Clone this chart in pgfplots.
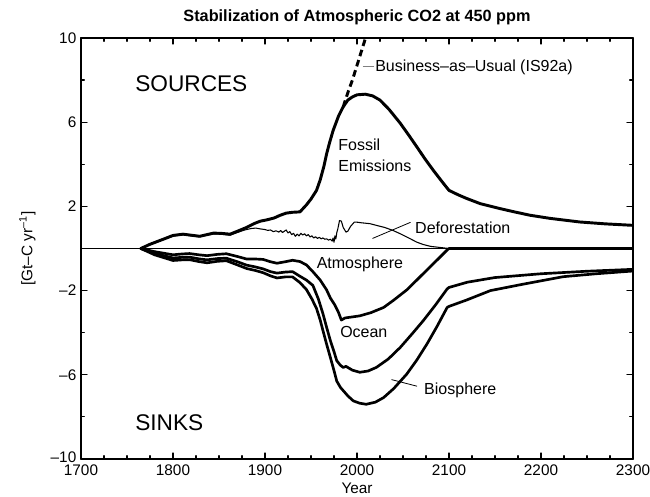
\documentclass[border=0pt]{standalone}
\usepackage{fontspec}
\setmainfont{Liberation Sans}
\usepackage{pgfplots}
\pgfplotsset{compat=1.18}
\begin{document}
\begin{tikzpicture}
\begin{axis}[name=ax,
  scale only axis, width=414pt, height=315.75pt,
  xmin=1700, xmax=2300, ymin=-10, ymax=10,
  xtick={1700,1800,1900,2000,2100,2200,2300},
  xticklabels={1700,1800,1900,2000,2100,2200,2300},
  minor x tick num=3,
  ytick={-10,-6,-2,2,6,10},
  yticklabels={\raisebox{3.5pt}{–10},–6,–2,2,6,10},
  minor ytick={-8,-4,0,4,8},
  tick align=inside,
  major tick length=4.5pt, minor tick length=2.5pt,
  every tick/.style={black, line width=0.9pt},
  axis line style={line width=1.3pt},
  tick label style={font=\fontsize{11.5}{13}\selectfont},
  xticklabel style={yshift=-0.5pt},
  title={Stabilization of Atmospheric CO2 at 450 ppm},
  title style={font=\fontsize{12.2}{14}\selectfont\bfseries, at={(axis description cs:0.5,1)}, anchor=center, yshift=9.5pt},
  xlabel={Year},
  xlabel style={font=\fontsize{11.5}{13}\selectfont, at={(axis description cs:0.5,0)}, anchor=center, yshift=-22pt},
  ylabel={[Gt–C yr\textsuperscript{–1}]},
  ylabel style={font=\fontsize{11.5}{13}\selectfont, at={(axis description cs:-0.097,0.5)}, anchor=center},
  line join=round, line cap=round,
]
% zero line
\addplot[black, line width=1pt] coordinates {(1700,0) (2300,0)};
% Deforestation (thin)
\addplot[black, line width=0.8pt] coordinates {
(1765,0) (1775,0.19) (1790,0.43) (1800,0.59) (1811,0.65) (1820,0.6) (1829,0.55)
(1837,0.63) (1844,0.69) (1852,0.68) (1862,0.63) (1870,0.76) (1878,0.88) (1885,0.95)
(1890,0.97) (1895,0.93) (1900,0.9) (1903,0.86) (1906,0.88) (1909,0.8) (1912,0.84)
(1915,0.78) (1917,0.85) (1919,0.76) (1921,0.82) (1923,0.88) (1925,0.74) (1927,0.8)
(1929,0.66) (1931,0.72) (1933,0.58) (1935,0.68) (1937,0.6) (1939,0.72) (1941,0.64)
(1943,0.7) (1945,0.6) (1947,0.66) (1949,0.55) (1951,0.6) (1953,0.5) (1955,0.56)
(1957,0.48) (1959,0.53) (1961,0.46) (1963,0.5) (1965,0.44) (1967,0.46) (1969,0.4)
(1971,0.44) (1973,0.35) (1974,0.5) (1975,0.3) (1976,0.6) (1977,0.45) (1978,0.75)
(1979,0.9) (1981,1.33) (1983,1.3) (1985,1.0) (1988,0.78) (1990,0.82) (1993,1.05)
(1997,1.25) (2000,1.25) (2005,1.22) (2014,1.18) (2021,1.1) (2030,1.0) (2039,0.86)
(2048,0.68) (2058,0.46) (2065,0.3) (2072,0.19) (2080,0.1) (2090,0.05) (2100,0) (2300,0)
};
% Fossil emissions (thick)
\addplot[black, line width=2.2pt] coordinates {
(1765,0) (1775,0.2) (1790,0.45) (1800,0.62) (1811,0.68) (1820,0.63) (1829,0.58)
(1837,0.66) (1844,0.73) (1852,0.72) (1862,0.68) (1870,0.82) (1880,1.0) (1888,1.18)
(1895,1.3) (1902,1.36) (1910,1.45) (1916,1.57) (1923,1.68) (1930,1.72) (1938,1.74)
(1945,2.07) (1950,2.35) (1956,2.76) (1960,3.26) (1964,3.9) (1967,4.5) (1970,5.0)
(1974,5.6) (1980,6.3) (1985,6.73) (1990,7.05) (1995,7.2) (2000,7.3) (2009,7.33)
(2017,7.25) (2025,7.05) (2035,6.6) (2047,5.95) (2056,5.4) (2065,4.83) (2074,4.25)
(2083,3.71) (2092,3.2) (2100,2.76) (2110,2.55) (2119,2.38) (2134,2.13) (2155,1.9)
(2170,1.75) (2188,1.58) (2210,1.43) (2242,1.26) (2270,1.17) (2300,1.1)
};
% Business-as-usual (dashed)
\addplot[black, line width=2.2pt, dash pattern=on 5pt off 3pt, line cap=butt] coordinates {
(1985,6.73) (1990,7.4) (1995,8.0) (2000,8.7) (2005,9.4) (2010,10.1)
};
% Atmosphere
\addplot[black, line width=2pt] coordinates {
(1765,0) (1780,-0.15) (1800,-0.3) (1810,-0.26) (1818,-0.24) (1828,-0.3) (1837,-0.34)
(1848,-0.28) (1858,-0.25) (1870,-0.38) (1880,-0.5) (1890,-0.5) (1898,-0.52) (1906,-0.63)
(1913,-0.7) (1922,-0.63) (1930,-0.56) (1938,-0.62) (1945,-0.78) (1952,-1.1) (1960,-1.5)
(1967,-1.97) (1971,-2.35) (1976,-2.69) (1980,-3.05) (1983,-3.4) (1987,-3.3) (1995,-3.25)
(2003,-3.2) (2015,-3.05) (2029,-2.8) (2040,-2.45) (2054,-1.97) (2065,-1.5) (2076,-1.02)
(2087,-0.55) (2098,-0.07) (2100,0) (2300,0)
};
% Ocean
\addplot[black, line width=2pt] coordinates {
(1765,0) (1780,-0.23) (1800,-0.45) (1810,-0.42) (1818,-0.41) (1828,-0.49) (1837,-0.54)
(1848,-0.48) (1858,-0.46) (1870,-0.63) (1880,-0.79) (1890,-0.88) (1898,-0.97) (1906,-1.1)
(1913,-1.17) (1922,-1.12) (1930,-1.1) (1938,-1.32) (1945,-1.5) (1952,-1.75) (1958,-2.4)
(1963,-3.1) (1967,-3.75) (1971,-4.37) (1975,-4.9) (1978,-5.33) (1982,-5.55) (1985,-5.65)
(1988,-5.6) (1995,-5.78) (2003,-5.88) (2012,-5.82) (2021,-5.65) (2034,-5.25) (2047,-4.7)
(2060,-4.05) (2072,-3.43) (2085,-2.7) (2098,-1.92) (2100,-1.85) (2120,-1.6) (2150,-1.38)
(2200,-1.2) (2250,-1.08) (2300,-0.99)
};
% Biosphere
\addplot[black, line width=2pt] coordinates {
(1765,0) (1780,-0.3) (1800,-0.57) (1810,-0.54) (1818,-0.53) (1828,-0.62) (1837,-0.68)
(1848,-0.61) (1858,-0.58) (1870,-0.78) (1880,-0.95) (1890,-1.05) (1898,-1.15) (1906,-1.3)
(1913,-1.4) (1922,-1.35) (1930,-1.35) (1938,-1.62) (1945,-1.95) (1951,-2.4) (1956,-2.85)
(1960,-3.4) (1963,-3.9) (1967,-4.55) (1971,-5.17) (1975,-5.8) (1978,-6.3) (1982,-6.6)
(1985,-6.75) (1990,-7.0) (1996,-7.24) (2003,-7.35) (2010,-7.4) (2020,-7.3) (2029,-7.08)
(2040,-6.65) (2054,-5.97) (2065,-5.3) (2076,-4.54) (2087,-3.7) (2098,-2.8) (2100,-2.75)
(2119,-2.45) (2145,-2.0) (2180,-1.7) (2224,-1.34) (2260,-1.2) (2300,-1.07)
};
% pointer lines
\addplot[gray, line width=0.8pt] coordinates {(2007,8.65) (2018,8.65)};
\addplot[black, line width=0.6pt] coordinates {(2017,0.48) (2058,1.24)};
\addplot[black, line width=0.6pt] coordinates {(2037.7,-6.23) (2065,-6.54)};
% labels
\node[anchor=west, inner sep=0pt, font=\fontsize{17}{19}\selectfont] at (axis cs:1758.7,7.83) {SOURCES};
\node[anchor=west, inner sep=0pt, font=\fontsize{17}{19}\selectfont] at (axis cs:1758.7,-8.26) {SINKS};
\node[anchor=west, inner sep=0pt, font=\fontsize{12}{14}\selectfont] at (axis cs:2019.6,8.6) {Business–as–Usual (IS92a)};
\node[anchor=west, inner sep=0pt, font=\fontsize{12}{14}\selectfont] at (axis cs:1979.5,4.94) {Fossil};
\node[anchor=west, inner sep=0pt, font=\fontsize{12}{14}\selectfont] at (axis cs:1979.5,3.93) {Emissions};
\node[anchor=west, inner sep=0pt, font=\fontsize{12}{14}\selectfont] at (axis cs:2063,1.0) {Deforestation};
\node[anchor=west, inner sep=0pt, font=\fontsize{12}{14}\selectfont] at (axis cs:1956,-0.74) {Atmosphere};
\node[anchor=west, inner sep=0pt, font=\fontsize{12}{14}\selectfont] at (axis cs:1981.5,-3.98) {Ocean};
\node[anchor=west, inner sep=0pt, font=\fontsize{12}{14}\selectfont] at (axis cs:2072.8,-6.74) {Biosphere};
\end{axis}
\pgfresetboundingbox
\path[use as bounding box] ([xshift=-60.75pt,yshift=-28.5pt]ax.south west) rectangle ([xshift=12.75pt,yshift=28.5pt]ax.north east);
\end{tikzpicture}
\end{document}
